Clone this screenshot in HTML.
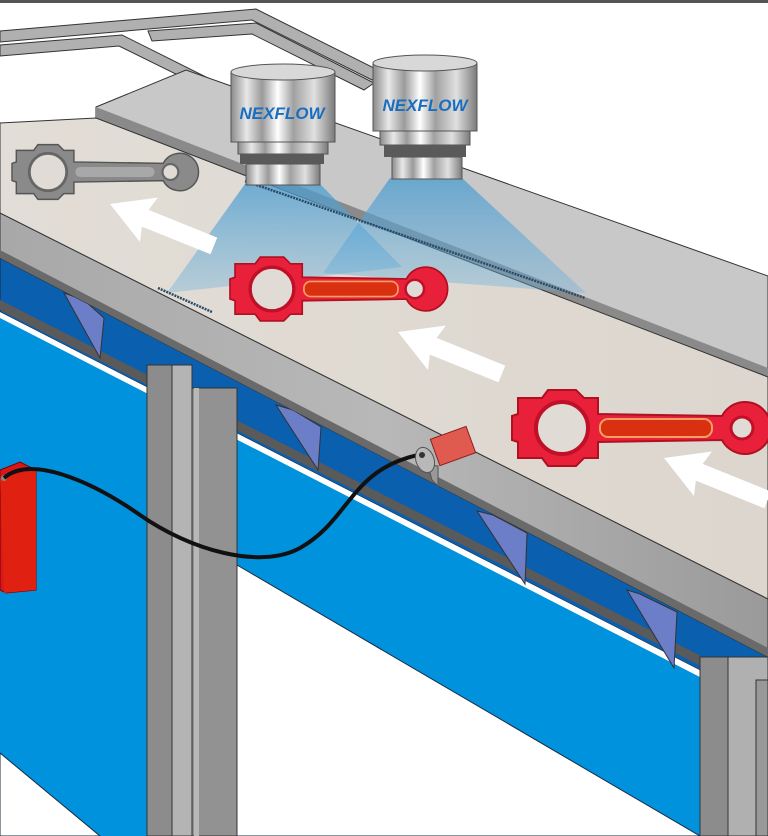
<!DOCTYPE html>
<html><head><meta charset="utf-8"><style>
html,body{margin:0;padding:0;background:#fff;}
svg{display:block;}
</style></head><body>
<svg width="768" height="836" viewBox="0 0 768 836" xmlns="http://www.w3.org/2000/svg">
<defs>
<linearGradient id="steel" x1="0" x2="1" y1="0" y2="0">
<stop offset="0" stop-color="#8a8a8a"/><stop offset="0.15" stop-color="#e8e8e8"/><stop offset="0.3" stop-color="#9a9a9a"/><stop offset="0.45" stop-color="#ffffff"/><stop offset="0.6" stop-color="#a0a0a0"/><stop offset="0.8" stop-color="#e0e0e0"/><stop offset="1" stop-color="#7a7a7a"/>
</linearGradient>
<linearGradient id="spray" x1="0" y1="0" x2="0" y2="1">
<stop offset="0" stop-color="#4a9cd0" stop-opacity="0.75"/><stop offset="1" stop-color="#6ab0dc" stop-opacity="0.35"/>
</linearGradient>
<linearGradient id="belt" x1="0" y1="0" x2="1" y2="0">
<stop offset="0" stop-color="#e2ddd6"/><stop offset="1" stop-color="#dcd6ce"/>
</linearGradient>
<linearGradient id="rail" x1="0" y1="0" x2="1" y2="0">
<stop offset="0" stop-color="#a8a8a8"/><stop offset="0.5" stop-color="#b8b8b8"/><stop offset="1" stop-color="#9a9a9a"/>
</linearGradient>
<g id="rod">
<path d="M-44,-30 L-20,-30 L-14,-38 L14,-38 L22,-30 L36,-30 L36,-14 L160,-12 A26,26 0 1,1 160,12 L36,14 L36,30 L22,30 L14,38 L-14,38 L-20,30 L-44,30 L-44,14 L-50,12 L-50,-12 L-44,-14 Z"/>
</g>
<path id="arr" d="M0,0 L42,-24 L38,-9 L112,-9 L112,9 L38,9 L42,24 Z"/>
</defs>

<rect width="768" height="836" fill="#fff"/>
<line x1="0" y1="1.5" x2="768" y2="1.5" stroke="#555" stroke-width="3"/>

<!-- top frame -->
<g fill="#b0b0b0" stroke="#333" stroke-width="1">
<path d="M0,31 L256,9 L382,72 L372,80 L252,20 L0,42 Z"/>
<path d="M0,45 L122,35 L212,80 L200,86 L119,46 L0,56 Z"/>
<path d="M148,31 L256,23 L374,83 L364,90 L252,34 L152,41 Z"/>
</g>

<!-- plate -->
<path d="M96,107 L186,70 L768,276 L768,377 L96,118 Z" fill="#c8c8c8" stroke="#333" stroke-width="1"/>
<path d="M96,107 L96,118 L768,377 L768,368 Z" fill="#8a8a8a"/>

<!-- blue structure -->
<path d="M0,240 L768,600 L768,836 L700,836 L237,565 L237,836 L100,836 L0,753 Z" fill="#0092dd"/>
<path d="M0,240 L768,600 L768,705 L0,312 Z" fill="#0a5fae" stroke="#1a2a40" stroke-width="1"/>
<path d="M0,300 L768,690 L768,700 L0,310 Z" fill="#5a5a5a"/>
<path d="M0,312 L768,705 L768,712 L0,318 Z" fill="#fff"/>
<path d="M237,565 L700,836 L237,836 Z" fill="#fff" stroke="#1a2a40" stroke-width="1"/>
<path d="M0,753 L100,836 L0,836 Z" fill="#fff" stroke="#1a2a40" stroke-width="1"/>
<g fill="#6c7ec8" stroke="#333" stroke-width="1">
<path d="M64,293 L84,300 L104,318 L100,358 Z"/>
<path d="M276,405 L293,410 L321,427 L318,470 Z"/>
<path d="M477,511 L493,515 L527,533 L525,584 Z"/>
<path d="M627,590 L640,594 L677,612 L674,668 Z"/>
</g>

<!-- rail -->
<path d="M0,213 L768,599 L768,657 L0,258 Z" fill="url(#rail)" stroke="#333" stroke-width="1"/>
<path d="M0,250 L768,648 L768,657 L0,258 Z" fill="#6a6a6a"/>

<!-- belt -->
<path d="M0,123 L96,118 L768,377 L768,599 L0,213 Z" fill="url(#belt)" stroke="#333" stroke-width="1"/>

<!-- spray cones -->
<path d="M245,184 L320,184 L402,267 L167,293 Z" fill="url(#spray)"/>
<path d="M390,178 L462,178 L586,293 L323,273 Z" fill="url(#spray)"/>
<line x1="245" y1="181" x2="585" y2="298" stroke="#2a4a66" stroke-width="2.5" stroke-dasharray="2 1"/>
<line x1="158" y1="288" x2="212" y2="312" stroke="#2a4a66" stroke-width="2.5" stroke-dasharray="2 1"/>

<!-- nozzles -->
<g>
<rect x="231" y="72" width="104" height="70" fill="url(#steel)" stroke="#555"/>
<ellipse cx="283" cy="72" rx="52" ry="8" fill="#d8d8d8" stroke="#555"/>
<rect x="238" y="142" width="90" height="12" fill="url(#steel)" stroke="#555"/>
<rect x="240" y="154" width="84" height="10" fill="#5a5a5a"/>
<rect x="246" y="164" width="74" height="21" fill="url(#steel)" stroke="#555"/>
<text x="282" y="119" text-anchor="middle" font-family="Liberation Sans, sans-serif" font-weight="bold" font-style="italic" font-size="17" fill="#1a6ec0">NEXFLOW</text>
</g>
<g>
<rect x="373" y="63" width="104" height="68" fill="url(#steel)" stroke="#555"/>
<ellipse cx="425" cy="63" rx="52" ry="8" fill="#d8d8d8" stroke="#555"/>
<rect x="380" y="131" width="90" height="14" fill="url(#steel)" stroke="#555"/>
<rect x="384" y="145" width="82" height="12" fill="#5a5a5a"/>
<rect x="392" y="157" width="70" height="22" fill="url(#steel)" stroke="#555"/>
<text x="425" y="111" text-anchor="middle" font-family="Liberation Sans, sans-serif" font-weight="bold" font-style="italic" font-size="17" fill="#1a6ec0">NEXFLOW</text>
</g>

<!-- arrows -->
<g fill="#fff">
<use href="#arr" transform="translate(110,204) rotate(22)"/>
<use href="#arr" transform="translate(398,332) rotate(22)"/>
<use href="#arr" transform="translate(664,458) rotate(22)"/>
</g>

<!-- conrods -->
<g transform="translate(48,172) scale(0.72)">
<use href="#rod" fill="#8a8a8a" stroke="#555" stroke-width="2"/>
<circle r="26" fill="#e0dbd5" stroke="#666" stroke-width="4"/>
<circle cx="170" r="11" fill="#e0dbd5" stroke="#666" stroke-width="3"/>
<rect x="38" y="-7" width="110" height="14" rx="7" fill="#a8a8a8"/>
</g>
<g transform="translate(272,289) scale(0.84)">
<use href="#rod" fill="#e8203a" stroke="#b01020" stroke-width="2"/>
<circle r="26" fill="#e0dbd5" stroke="#c01028" stroke-width="4"/>
<circle cx="170" r="11" fill="#e0dbd5" stroke="#c01028" stroke-width="3"/>
<rect x="38" y="-9" width="112" height="18" rx="8" fill="#d83010" stroke="#f8a060" stroke-width="2"/>
</g>
<g transform="translate(562,428) scale(1.0)">
<use href="#rod" fill="#e8203a" stroke="#b01020" stroke-width="2"/>
<circle r="26" fill="#e0dbd5" stroke="#c01028" stroke-width="4"/>
<circle cx="180" r="11" fill="#e0dbd5" stroke="#c01028" stroke-width="3"/>
<rect x="38" y="-9" width="112" height="18" rx="8" fill="#d83010" stroke="#f8a060" stroke-width="2"/>
</g>

<!-- columns -->
<rect x="147" y="365" width="25" height="471" fill="#8c8c8c" stroke="#333"/>
<rect x="172" y="365" width="20" height="471" fill="#b4b4b4" stroke="#333"/>
<rect x="192" y="388" width="45" height="448" fill="#929292" stroke="#333"/>
<rect x="194" y="388" width="5" height="448" fill="#b8b8b8"/>
<rect x="700" y="657" width="28" height="179" fill="#8c8c8c" stroke="#333"/>
<rect x="728" y="657" width="40" height="179" fill="#b0b0b0" stroke="#333"/>
<rect x="756" y="680" width="12" height="156" fill="#999" stroke="#333"/>

<!-- red box -->
<path d="M0,470 L20,462 L36,470 L36,590 L6,593 L0,590 Z" fill="#d81818" stroke="#700" stroke-width="1"/>
<path d="M0,478 L36,470 L36,590 L4,593 Z" fill="#e02010"/>
<circle cx="4" cy="478" r="3" fill="#888"/>

<!-- cable -->
<path d="M4,478 C30,455 90,480 140,515 C190,550 260,570 300,548 C350,520 350,470 418,455" fill="none" stroke="#111" stroke-width="4"/>

<!-- sensor -->
<path d="M428,465 L432,480 L438,486 L438,466 Z" fill="#999" stroke="#555"/>
<rect x="434" y="432" width="38" height="28" fill="#e05a50" stroke="#8a2020" transform="rotate(-20 453 446)"/>
<ellipse cx="425" cy="460" rx="9" ry="13" fill="#b8b8b8" stroke="#555" transform="rotate(-20 425 460)"/>
<circle cx="422" cy="455" r="3" fill="#333"/>
</svg>
</body></html>
